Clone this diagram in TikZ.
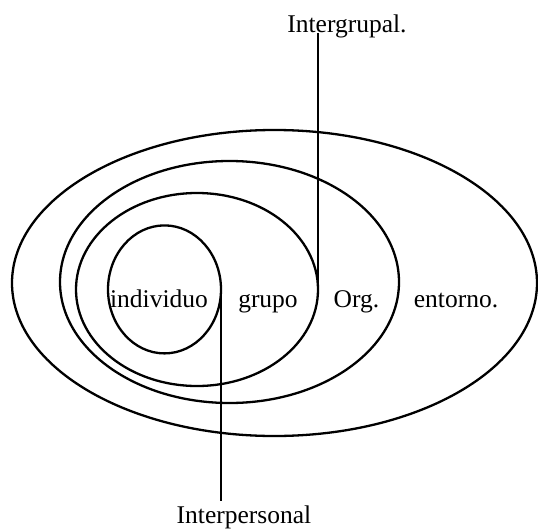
\documentclass[tikz,border=0pt]{standalone}
\usepackage{fontspec}
\setmainfont{Liberation Serif}
\usetikzlibrary{shapes.geometric}

\begin{document}
\begin{tikzpicture}[x=1pt,y=-1pt,
  ring/.style={ellipse, draw, line width=2.3pt, inner sep=0pt, outer sep=0pt},
  word/.style={anchor=base, inner sep=0pt, font=\fontsize{25.5}{30}\selectfont}]
\useasboundingbox (0,0) rectangle (538,530);

% Draw the nested rings
\node[ring, minimum width=525pt, minimum height=306pt] (entorno) at (274.5,283) {};
\node[ring, minimum width=339pt, minimum height=242pt] (org) at (229.5,282) {};
\node[ring, minimum width=242pt, minimum height=193pt] (grupo) at (197,289.5) {};
\node[ring, minimum width=113pt, minimum height=128pt] (individuo) at (164.5,289.4) {};

% Labels inside the rings
\node[word] (tindividuo) at (159,307) {individuo};
\node[word] (tgrupo) at (268,307) {grupo};
\node[word] (torg) at (356.5,307) {Org.};
\node[word] (tentorno) at (456,307) {entorno.};

% Labels at the ends of the lines
\node[word] (intergrupal) at (347,32.6) {Intergrupal.};
\node[word] (interpersonal) at (244,523) {Interpersonal};

% Draw the vertical lines
\draw[line width=2.3pt] (grupo.east) -- (grupo.east |- intergrupal.base);
\draw[line width=2.3pt] (individuo.east) -- ([yshift=4pt]individuo.east |- interpersonal.north);

\end{tikzpicture}
\end{document}
